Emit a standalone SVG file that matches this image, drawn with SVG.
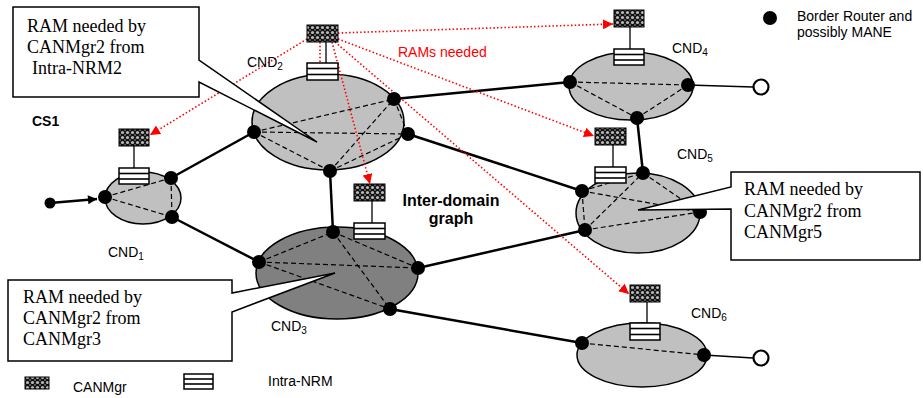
<svg xmlns="http://www.w3.org/2000/svg" width="923" height="398" viewBox="0 0 923 398">
  <style>
    .dom { fill: #c0c0c0; stroke: #000; stroke-width: 1.5; }
    .dom-dark { fill: #808080; stroke: #000; stroke-width: 1.5; }
    .intra { fill: none; stroke: #000; stroke-width: 1.2; stroke-dasharray: 5 3; }
    .br { fill: #000; }
    .link { stroke: #000; stroke-width: 2.5; fill: none; }
    .stub { stroke: #000; stroke-width: 1.6; fill: none; }
    .host { fill: #fff; stroke: #000; stroke-width: 2.2; }
    .mgr { fill: url(#mesh); stroke: #000; stroke-width: 1; }
    .nrm { fill: #fff; stroke: #000; stroke-width: 1.5; }
    .nrm-bar { stroke: #000; stroke-width: 1.6; }
    .tether { stroke: #000; stroke-width: 1.3; }
    .ram { stroke: #ff0000; stroke-width: 1.6; stroke-dasharray: 1.5 2.2; fill: none; marker-end: url(#redHead); }
    .callout { fill: #fff; stroke: #000; stroke-width: 1.5; }
    .sans { font-family: "Liberation Sans", Arial, sans-serif; font-size: 14px; fill: #000; }
    .bold { font-family: "Liberation Sans", Arial, sans-serif; font-weight: bold; fill: #000; }
    .serif { font-family: "Liberation Serif", "Times New Roman", serif; font-size: 18px; fill: #000; }
    .sub { font-size: 10px; }
  </style>
  <defs>
    <pattern id="mesh" width="5" height="5" patternUnits="userSpaceOnUse">
      <rect width="5" height="5" fill="#111"/>
      <circle cx="2.5" cy="2.5" r="1.6" fill="#b8b8b8"/>
      <circle cx="0" cy="0" r="0.9" fill="#777"/>
      <circle cx="5" cy="0" r="0.9" fill="#777"/>
      <circle cx="0" cy="5" r="0.9" fill="#777"/>
      <circle cx="5" cy="5" r="0.9" fill="#777"/>
    </pattern>
    <marker id="redHead" viewBox="0 0 10 10" refX="10" refY="5" markerWidth="10" markerHeight="10" markerUnits="userSpaceOnUse" orient="auto">
      <path d="M0,0 L10,5 L0,10 Z" fill="#ff0000"/>
    </marker>
    <marker id="blackHead" viewBox="0 0 10 10" refX="10" refY="5" markerWidth="10" markerHeight="9" markerUnits="userSpaceOnUse" orient="auto">
      <path d="M0,0 L10,5 L0,10 Z" fill="#000"/>
    </marker>
  </defs>

  <rect width="923" height="398" fill="#fff"/>

  <!-- domain ellipses -->
  <g id="cnd1-area"><ellipse class="dom" cx="143" cy="198" rx="38" ry="26"/></g>
  <g id="cnd2-area"><ellipse class="dom" cx="328" cy="122" rx="76" ry="48"/></g>
  <g id="cnd3-area"><ellipse class="dom-dark" cx="337" cy="273" rx="81" ry="46"/></g>
  <g id="cnd4-area"><ellipse class="dom" cx="631" cy="86" rx="62" ry="34"/></g>
  <g id="cnd5-area"><ellipse class="dom" cx="638" cy="213" rx="62" ry="40"/></g>
  <g id="cnd6-area"><ellipse class="dom" cx="642" cy="355" rx="65" ry="32"/></g>

  <!-- inter-domain links and management signalling -->
  <g id="connectors">
    <line class="link" x1="50" y1="203" x2="97" y2="199" marker-end="url(#blackHead)"/>
    <line class="link" x1="171" y1="178" x2="254" y2="132"/>
    <line class="link" x1="172" y1="217" x2="259" y2="262"/>
    <line class="link" x1="330" y1="171" x2="333" y2="232"/>
    <line class="link" x1="394" y1="99" x2="570" y2="82"/>
    <line class="link" x1="408" y1="134" x2="582" y2="191"/>
    <line class="link" x1="418" y1="268" x2="585" y2="230"/>
    <line class="link" x1="390" y1="309" x2="582" y2="343"/>
    <line class="link" x1="637" y1="118" x2="643" y2="173"/>
    <line class="stub" x1="688" y1="85" x2="753" y2="87"/>
    <line class="stub" x1="704" y1="355" x2="753" y2="358"/>

    <!-- intra-domain meshes -->
    <line class="intra" x1="105" y1="197" x2="171" y2="178"/>
    <line class="intra" x1="105" y1="197" x2="172" y2="217"/>
    <line class="intra" x1="171" y1="178" x2="172" y2="217"/>

    <line class="intra" x1="254" y1="132" x2="394" y2="99"/>
    <line class="intra" x1="254" y1="132" x2="408" y2="134"/>
    <line class="intra" x1="254" y1="132" x2="330" y2="171"/>
    <line class="intra" x1="330" y1="171" x2="394" y2="99"/>
    <line class="intra" x1="330" y1="171" x2="408" y2="134"/>
    <line class="intra" x1="394" y1="99" x2="408" y2="134"/>

    <line class="intra" x1="259" y1="262" x2="333" y2="232"/>
    <line class="intra" x1="259" y1="262" x2="418" y2="268"/>
    <line class="intra" x1="259" y1="262" x2="390" y2="309"/>
    <line class="intra" x1="333" y1="232" x2="418" y2="268"/>
    <line class="intra" x1="333" y1="232" x2="390" y2="309"/>

    <line class="intra" x1="570" y1="82" x2="688" y2="85"/>
    <line class="intra" x1="570" y1="82" x2="637" y2="118"/>
    <line class="intra" x1="688" y1="85" x2="637" y2="118"/>

    <line class="intra" x1="582" y1="191" x2="643" y2="173"/>
    <line class="intra" x1="582" y1="191" x2="700" y2="212"/>
    <line class="intra" x1="582" y1="191" x2="585" y2="230"/>
    <line class="intra" x1="643" y1="173" x2="700" y2="212"/>
    <line class="intra" x1="585" y1="230" x2="643" y2="173"/>
    <line class="intra" x1="585" y1="230" x2="700" y2="212"/>

    <line class="intra" x1="582" y1="343" x2="704" y2="355"/>

    <!-- manager tethers -->
    <line class="tether" x1="134" y1="146" x2="134" y2="168"/>
    <line class="tether" x1="326" y1="42" x2="326" y2="63"/>
    <line class="tether" x1="372" y1="201" x2="372" y2="223"/>
    <line class="tether" x1="630" y1="27" x2="630" y2="49"/>
    <line class="tether" x1="613" y1="145" x2="613" y2="167"/>
    <line class="tether" x1="647" y1="302" x2="647" y2="323"/>

    <!-- RAM requests from CANMgr2 -->
    <line class="ram" x1="307" y1="39" x2="150" y2="135"/>
    <line class="ram" x1="320" y1="42" x2="320" y2="74"/>
    <line class="ram" x1="332" y1="42" x2="370" y2="184"/>
    <line class="ram" x1="338" y1="33" x2="613" y2="24"/>
    <line class="ram" x1="338" y1="39" x2="594" y2="136"/>
    <line class="ram" x1="335" y1="42" x2="629" y2="294"/>
  </g>

  <!-- border routers, end hosts and domain managers -->
  <g id="cnd1">
    <circle class="br" cx="50" cy="203" r="5.5"/>
    <circle class="br" cx="105" cy="197" r="7"/>
    <circle class="br" cx="171" cy="178" r="7"/>
    <circle class="br" cx="172" cy="217" r="7"/>
    <rect class="mgr" x="119" y="129" width="30" height="17"/>
    <rect class="nrm" x="119" y="168" width="30" height="16"/>
    <line class="nrm-bar" x1="119" y1="173.5" x2="149" y2="173.5"/>
    <line class="nrm-bar" x1="119" y1="179" x2="149" y2="179"/>
    <text class="sans" x="108" y="257">CND<tspan class="sub" dy="3">1</tspan></text>
  </g>

  <g id="cnd2">
    <circle class="br" cx="254" cy="132" r="7"/>
    <circle class="br" cx="394" cy="99" r="7"/>
    <circle class="br" cx="408" cy="134" r="7"/>
    <circle class="br" cx="330" cy="171" r="7"/>
    <rect class="mgr" x="307" y="25" width="31" height="17"/>
    <rect class="nrm" x="307" y="63" width="31" height="17"/>
    <line class="nrm-bar" x1="307" y1="68.5" x2="338" y2="68.5"/>
    <line class="nrm-bar" x1="307" y1="74.5" x2="338" y2="74.5"/>
    <text class="sans" x="247" y="67">CND<tspan class="sub" dy="3">2</tspan></text>
  </g>

  <g id="cnd3">
    <circle class="br" cx="259" cy="262" r="7"/>
    <circle class="br" cx="333" cy="232" r="7"/>
    <circle class="br" cx="418" cy="268" r="7"/>
    <circle class="br" cx="390" cy="309" r="7"/>
    <rect class="mgr" x="354" y="184" width="31" height="17"/>
    <rect class="nrm" x="354" y="223" width="31" height="16"/>
    <line class="nrm-bar" x1="354" y1="228.5" x2="385" y2="228.5"/>
    <line class="nrm-bar" x1="354" y1="234" x2="385" y2="234"/>
    <text class="sans" x="271" y="331">CND<tspan class="sub" dy="3">3</tspan></text>
  </g>

  <g id="cnd4">
    <circle class="br" cx="570" cy="82" r="7"/>
    <circle class="br" cx="688" cy="85" r="7"/>
    <circle class="br" cx="637" cy="118" r="7"/>
    <circle class="host" cx="761" cy="87" r="7.5"/>
    <rect class="mgr" x="614" y="10" width="30" height="17"/>
    <rect class="nrm" x="614" y="49" width="30" height="16"/>
    <line class="nrm-bar" x1="614" y1="54.5" x2="644" y2="54.5"/>
    <line class="nrm-bar" x1="614" y1="60" x2="644" y2="60"/>
    <text class="sans" x="672" y="53">CND<tspan class="sub" dy="3">4</tspan></text>
  </g>

  <g id="cnd5">
    <circle class="br" cx="643" cy="173" r="7"/>
    <circle class="br" cx="582" cy="191" r="7"/>
    <circle class="br" cx="585" cy="230" r="7"/>
    <circle class="br" cx="700" cy="212" r="7"/>
    <rect class="mgr" x="595" y="128" width="31" height="17"/>
    <rect class="nrm" x="595" y="167" width="31" height="16"/>
    <line class="nrm-bar" x1="595" y1="172.5" x2="626" y2="172.5"/>
    <line class="nrm-bar" x1="595" y1="178" x2="626" y2="178"/>
    <text class="sans" x="677" y="159">CND<tspan class="sub" dy="3">5</tspan></text>
  </g>

  <g id="cnd6">
    <circle class="br" cx="582" cy="343" r="7"/>
    <circle class="br" cx="704" cy="355" r="7"/>
    <circle class="host" cx="761" cy="358" r="7.5"/>
    <rect class="mgr" x="630" y="285" width="30" height="17"/>
    <rect class="nrm" x="630" y="323" width="30" height="17"/>
    <line class="nrm-bar" x1="630" y1="328.5" x2="660" y2="328.5"/>
    <line class="nrm-bar" x1="630" y1="334.5" x2="660" y2="334.5"/>
    <text class="sans" x="691" y="318">CND<tspan class="sub" dy="3">6</tspan></text>
  </g>

  <!-- annotations -->
  <g id="labels">
    <text class="bold" x="32" y="126" font-size="14">CS1</text>
    <text class="bold" x="451" y="206" font-size="16" text-anchor="middle">Inter-domain</text>
    <text class="bold" x="451" y="224" font-size="16" text-anchor="middle">graph</text>
    <text class="sans" x="398" y="57" fill="#ff0000" style="fill:#ff0000">RAMs needed</text>
  </g>

  <g id="callout-intra-nrm2">
    <path class="callout" d="M13,7 H199 V60 L317,142 L199,82 V97 H13 Z"/>
    <text class="serif" x="27" y="32">RAM needed by</text>
    <text class="serif" x="27" y="53">CANMgr2 from</text>
    <text class="serif" x="32" y="74">Intra-NRM2</text>
  </g>

  <g id="callout-canmgr5">
    <path class="callout" d="M731,172 H920 V260 H731 V209 L638,210 L731,187 Z"/>
    <text class="serif" x="744" y="195">RAM needed by</text>
    <text class="serif" x="744" y="217">CANMgr2 from</text>
    <text class="serif" x="744" y="238">CANMgr5</text>
  </g>

  <g id="callout-canmgr3">
    <path class="callout" d="M8,280 H232 V293 L335,273 L232,312 V361 H8 Z"/>
    <text class="serif" x="23" y="303">RAM needed by</text>
    <text class="serif" x="23" y="324">CANMgr2 from</text>
    <text class="serif" x="23" y="345">CANMgr3</text>
  </g>

  <!-- legend -->
  <g id="legend">
    <circle class="br" cx="770" cy="18" r="7"/>
    <text class="sans" x="797" y="21" font-size="13.5">Border Router and</text>
    <text class="sans" x="797" y="37" font-size="13.5">possibly MANE</text>
    <rect class="mgr" x="25" y="377" width="24" height="12" stroke="none"/>
    <text class="sans" x="73" y="392">CANMgr</text>
    <rect class="nrm" x="184" y="374" width="29" height="15"/>
    <line class="nrm-bar" x1="184" y1="379" x2="213" y2="379"/>
    <line class="nrm-bar" x1="184" y1="384" x2="213" y2="384"/>
    <text class="sans" x="268" y="386">Intra-NRM</text>
  </g>
</svg>
